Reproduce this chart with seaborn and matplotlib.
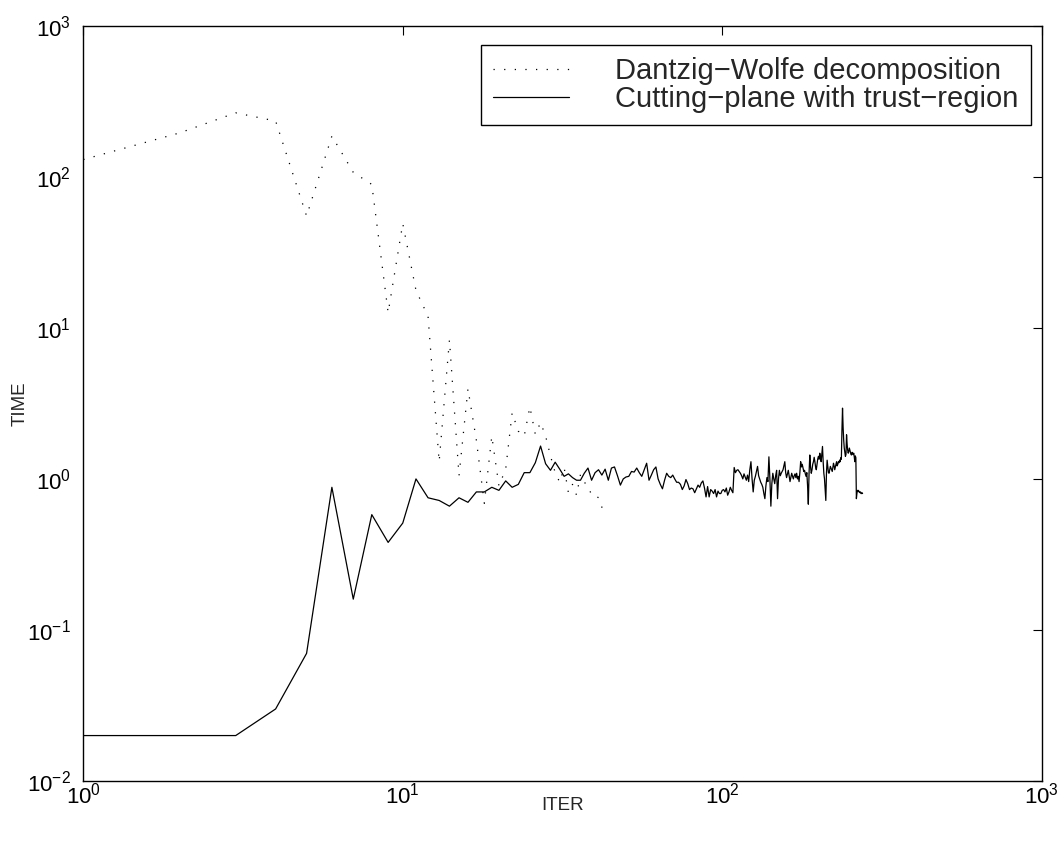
import numpy as np
import pandas as pd
import matplotlib
matplotlib.use("Agg")
import matplotlib.pyplot as plt
import seaborn as sns
from matplotlib.ticker import LogLocator, NullLocator

# Dantzig-Wolfe decomposition: time per iteration, iterations 1..43
dw_time = [130, 195, 265, 234, 55, 186, 107, 89, 12.6, 49,
           17.7, 11.9, 1.3, 8.3, 1.05, 3.95, 1.8, 0.69, 1.92, 0.9,
           1.16, 2.74, 2.07, 1.92, 3.0, 1.97, 2.36, 1.92, 1.42, 1.1,
           0.95, 1.19, 0.81, 0.92, 0.78, 1.07, 0.95, 0.9, 0.78, 0.78,
           0.75, 0.65, 0.59]

# Cutting-plane with trust-region: time per iteration, iterations 1..275
cp_time = [
    0.02, 0.02, 0.02, 0.030, 0.070, 0.88, 0.16, 0.58, 0.38, 0.51,      # 1-10
    1.00, 0.75, 0.72, 0.66, 0.75, 0.70, 0.82, 0.82, 0.88, 0.84,        # 11-20
    0.97, 0.88, 0.92, 1.10, 1.10, 1.28, 1.65, 1.26, 1.14, 1.29,        # 21-30
    1.16, 1.04, 1.08, 1.02, 0.98, 0.98, 1.09, 1.18, 0.98, 1.10,        # 31-40
    1.15, 1.06, 1.16, 0.98, 1.18, 1.20, 1.05, 0.91, 1.00, 1.03,        # 41-50
    1.04, 1.12, 1.11, 1.18, 1.10, 1.04, 1.15, 1.27, 0.98, 1.06,        # 51-60
    1.15, 1.20, 1.00, 0.92, 0.86, 0.98, 1.09, 1.04, 1.02, 1.06,        # 61-70
    1.00, 0.95, 0.95, 0.92, 0.85, 0.90, 0.99, 0.93, 0.85, 0.87,        # 71-80
    0.86, 0.81, 0.86, 0.91, 0.88, 0.94, 0.97, 0.87, 0.76, 0.89,        # 81-90
    0.76, 0.85, 0.83, 0.80, 0.85, 0.76, 0.83, 0.80, 0.80, 0.84,        # 91-100
    0.85, 0.82, 0.87, 0.78, 0.82, 0.88, 0.84, 0.81, 1.19, 1.10,        # 101-110
    1.14, 1.15, 1.12, 1.09, 1.05, 1.00, 1.08, 1.03, 0.98, 1.06,        # 111-120
    0.96, 1.15, 1.30, 1.00, 0.82, 0.98, 1.04, 1.12, 1.21, 1.05,        # 121-130
    1.00, 0.95, 0.92, 0.88, 0.80, 0.74, 0.90, 1.02, 0.96, 1.40,        # 131-140
    1.00, 0.66, 0.93, 1.09, 1.00, 0.93, 1.05, 1.14, 0.74, 1.00,        # 141-150
    1.14, 1.05, 1.09, 1.12, 1.15, 1.22, 1.30, 1.10, 1.02, 1.08,        # 151-160
    1.14, 1.05, 0.96, 1.02, 1.09, 1.04, 1.00, 1.05, 1.08, 1.02,        # 161-170
    1.09, 1.00, 1.04, 0.96, 1.10, 1.30, 1.20, 1.25, 1.18, 1.12,        # 171-180
    1.14, 1.08, 1.04, 1.10, 0.90, 0.68, 1.10, 1.44, 1.20, 1.09,        # 181-190
    1.15, 1.25, 1.30, 1.39, 1.30, 1.20, 1.15, 1.25, 1.35, 1.41,        # 191-200
    1.35, 1.48, 1.40, 1.30, 1.45, 1.64, 1.30, 1.09, 1.00, 0.85,        # 201-210
    0.72, 1.10, 1.33, 1.20, 1.10, 1.09, 1.15, 1.21, 1.18, 1.15,        # 211-220
    1.12, 1.20, 1.27, 1.22, 1.15, 1.20, 1.26, 1.30, 1.22, 1.25,        # 221-230
    1.30, 1.28, 1.33, 1.30, 1.38, 1.35, 2.10, 2.94, 2.20, 1.81,        # 231-240
    1.60, 1.50, 1.41, 1.45, 1.96, 1.70, 1.55, 1.48, 1.52, 1.60,        # 241-250
    1.55, 1.50, 1.45, 1.44, 1.50, 1.48, 1.45, 1.48, 1.40, 1.30,        # 251-260
    1.42, 1.38, 0.74, 0.80, 0.84, 0.83, 0.84, 0.82, 0.82, 0.81,        # 261-270
    0.82, 0.80, 0.80, 0.81, 0.80,                                      # 271-275
]

legend_labels = ["Dantzig\u2212Wolfe decomposition",
                 "Cutting\u2212plane with trust\u2212region"]

dw = pd.DataFrame({"ITER": np.arange(1, len(dw_time) + 1), "TIME": dw_time})
cp = pd.DataFrame({"ITER": np.arange(1, len(cp_time) + 1), "TIME": cp_time})

sns.set_style("white")
plt.rcParams["font.family"] = ["Liberation Sans", "DejaVu Sans"]
plt.rcParams["mathtext.fontset"] = "custom"
plt.rcParams["mathtext.rm"] = "Liberation Sans"
plt.rcParams["mathtext.it"] = "Liberation Sans"
plt.rcParams["mathtext.default"] = "regular"

fig = plt.figure(figsize=(10.61, 8.43), dpi=100)
ax = fig.add_axes([0.0785, 0.0735, 0.9033, 0.896])

sns.lineplot(data=dw, x="ITER", y="TIME", ax=ax, color="black",
             linewidth=0.9, linestyle=(0, (1, 7.5)), estimator=None,
             label=legend_labels[0])
sns.lineplot(data=cp, x="ITER", y="TIME", ax=ax, color="black",
             linewidth=0.9, estimator=None, label=legend_labels[1])

ax.set_xscale("log")
ax.set_yscale("log")
ax.set_xlim(1, 1000)
ax.set_ylim(0.01, 1000)
ax.xaxis.set_major_locator(LogLocator(base=10, numticks=10))
ax.yaxis.set_major_locator(LogLocator(base=10, numticks=10))
ax.xaxis.set_minor_locator(NullLocator())
ax.yaxis.set_minor_locator(NullLocator())

ax.tick_params(which="major", direction="in", length=6.5, width=0.8,
               top=True, right=True, labelsize=16, colors="black")
ax.tick_params(axis="x", pad=1)
ax.tick_params(axis="y", pad=9)
for sp in ax.spines.values():
    sp.set_visible(True)
    sp.set_color("black")
    sp.set_linewidth(1.0)

ax.set_xlabel("ITER", fontsize=13.5, labelpad=-8)
ax.set_ylabel("TIME", fontsize=13.5, labelpad=-1)

leg = ax.legend(loc="upper right", bbox_to_anchor=(0.9888, 0.9745),
                borderaxespad=0, frameon=True, fancybox=False,
                edgecolor="black", framealpha=1, fontsize=21,
                handlelength=2.6, handletextpad=1.6, labelspacing=0.0,
                borderpad=0.42)
leg.get_frame().set_linewidth(1.0)

fig.savefig("out.png", dpi=100)
